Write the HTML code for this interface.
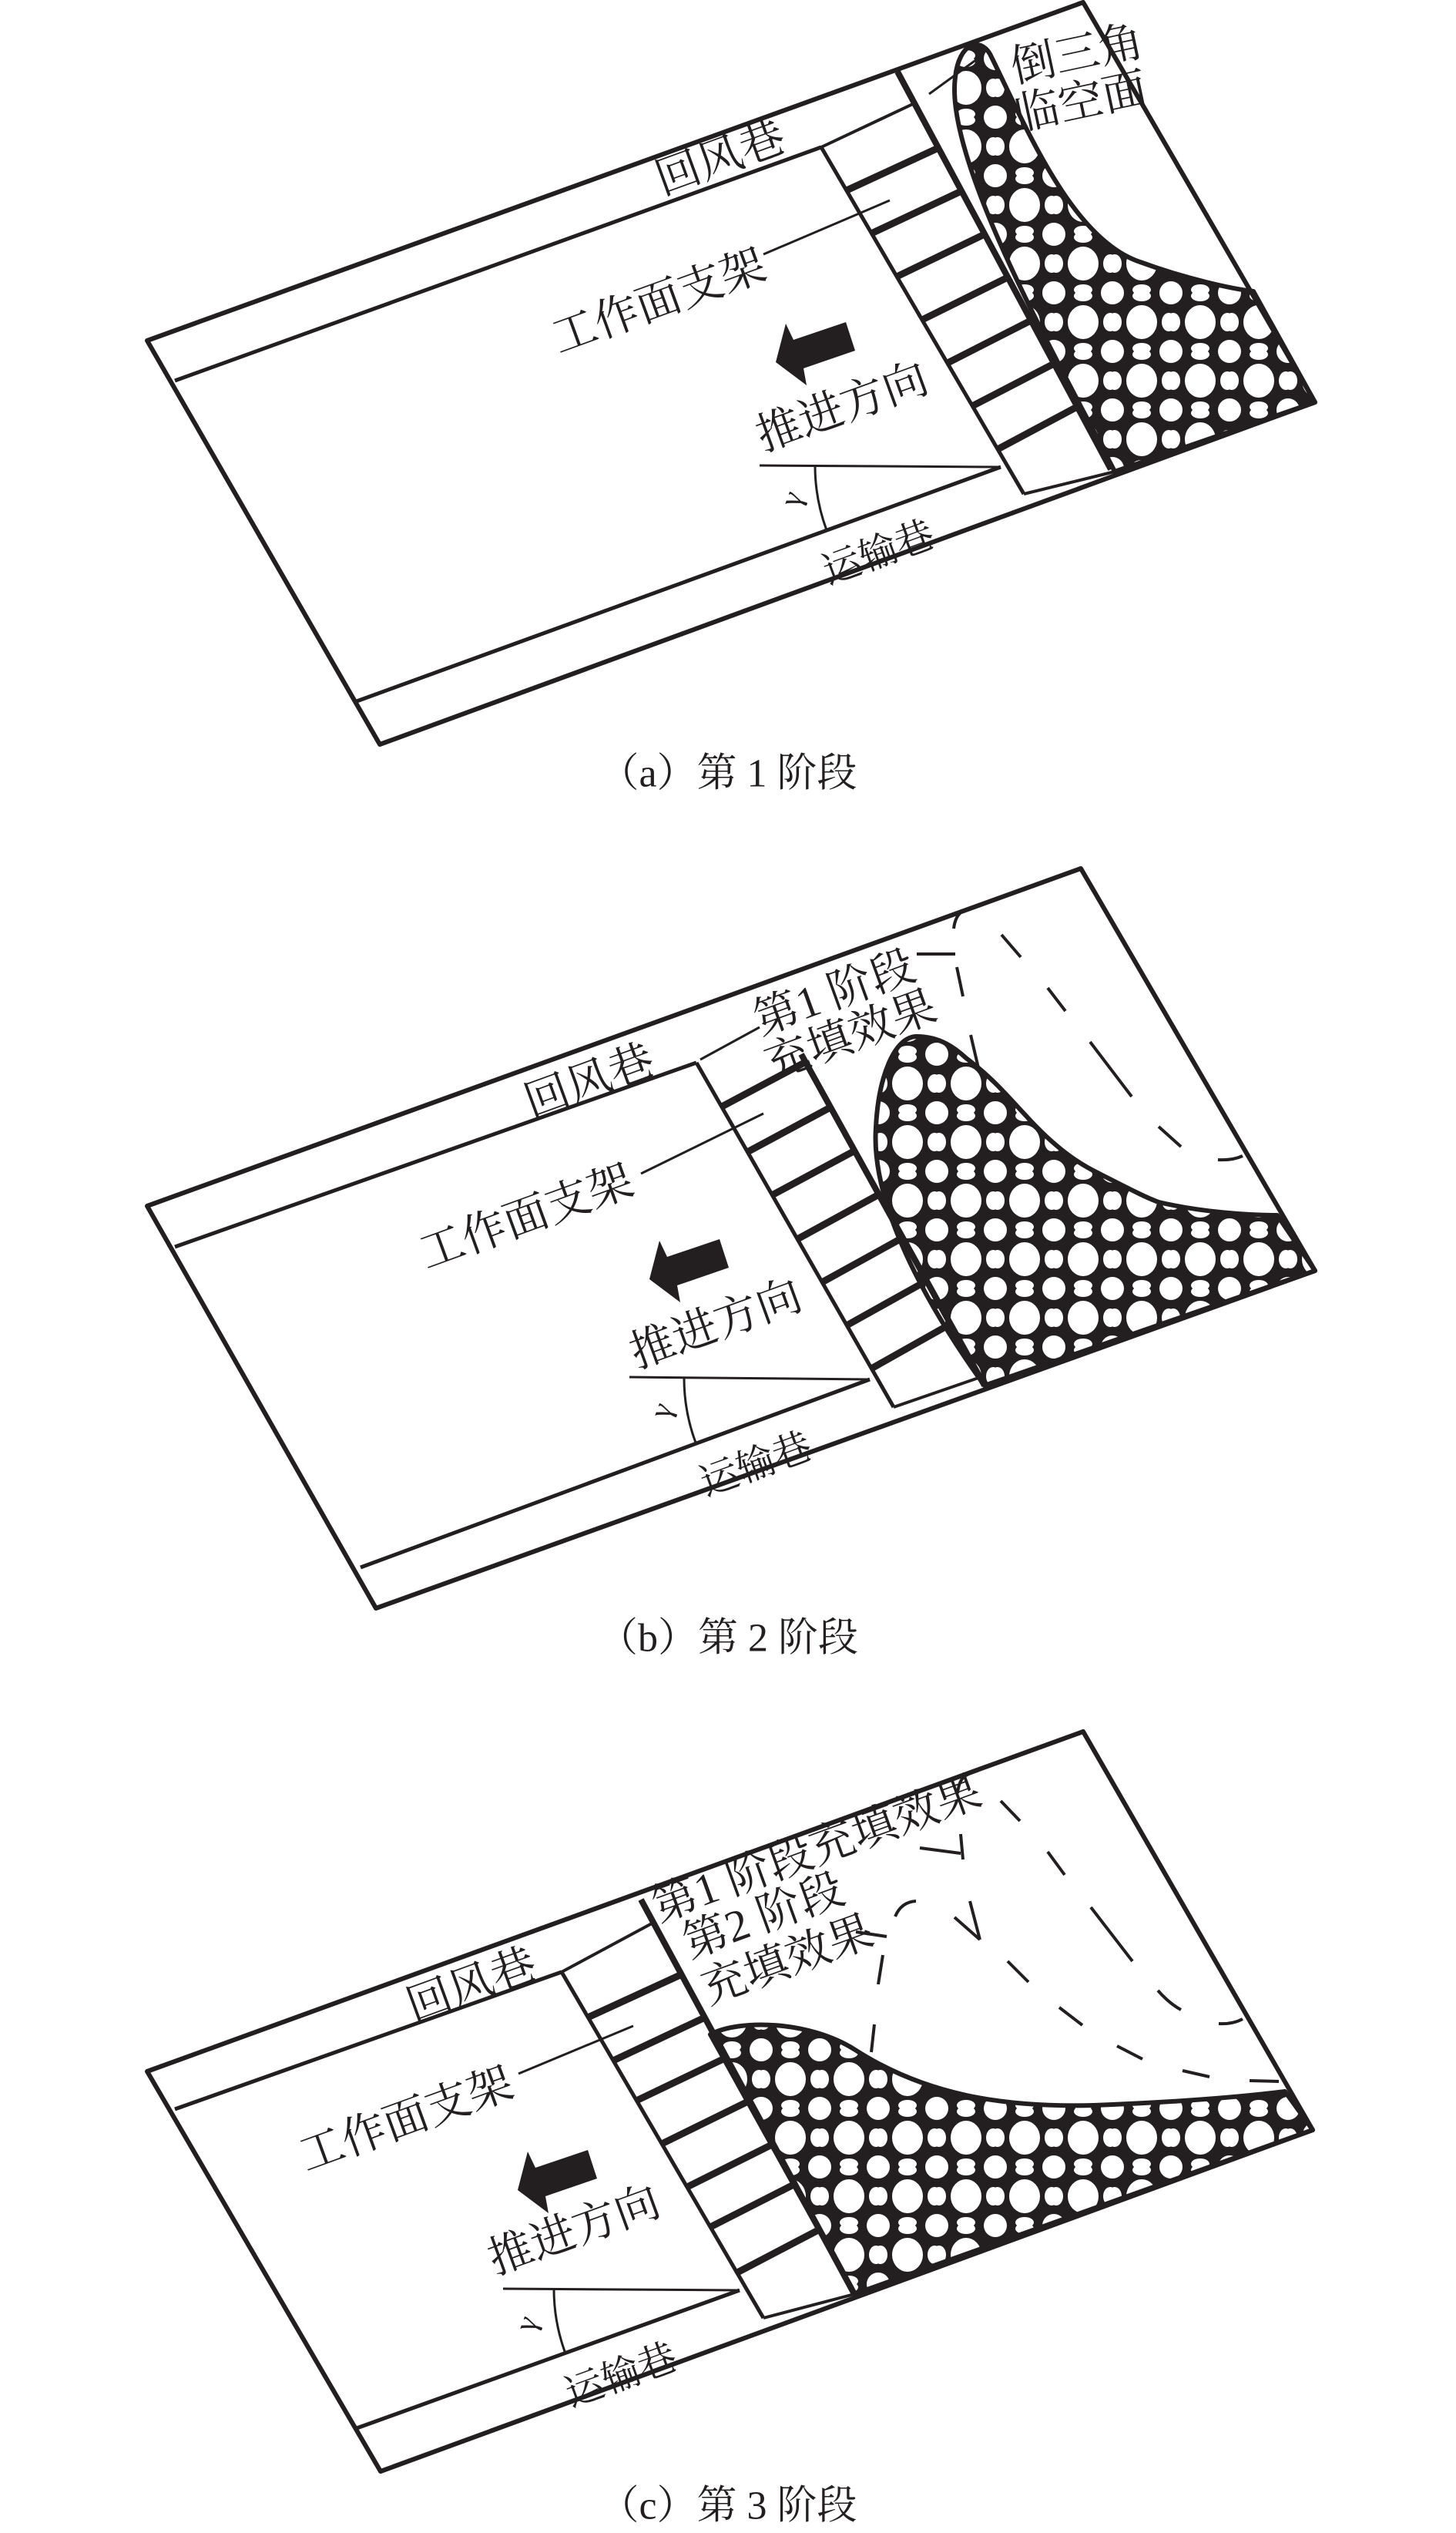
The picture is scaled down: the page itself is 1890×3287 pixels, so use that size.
<!DOCTYPE html>
<html><head><meta charset="utf-8"><style>
html,body{margin:0;padding:0;background:#fff}
svg{display:block}
text{font-family:"Liberation Serif","Noto Serif CJK SC",serif;fill:#231f20}
</style></head><body>
<svg width="1890" height="3287" viewBox="0 0 1890 3287" xmlns="http://www.w3.org/2000/svg">
<defs>
<pattern id="rb" patternUnits="userSpaceOnUse" width="76" height="76">
<rect width="76" height="76" fill="#231f20"/>
<ellipse cx="38" cy="38" rx="20" ry="22" fill="#fff"/>
<ellipse cx="0" cy="0" rx="15" ry="15" fill="#fff"/>
<ellipse cx="76" cy="0" rx="15" ry="15" fill="#fff"/>
<ellipse cx="0" cy="76" rx="15" ry="15" fill="#fff"/>
<ellipse cx="76" cy="76" rx="15" ry="15" fill="#fff"/>
<ellipse cx="38" cy="4" rx="12" ry="7" fill="#fff"/>
<ellipse cx="38" cy="72" rx="12" ry="7" fill="#fff"/>
<ellipse cx="3" cy="38" rx="9" ry="12" fill="#fff"/>
<ellipse cx="73" cy="38" rx="9" ry="12" fill="#fff"/>
</pattern>
</defs>
<g stroke="#231f20" fill="none" stroke-linejoin="round">

<!-- ========== Panel A ========== -->
<path d="M1447,612 C1380,480 1225,210 1240,100 C1245,55 1272,48 1285,70 C1330,160 1390,310 1480,340 C1540,362 1600,375 1627,378 L1707,522 Z" fill="url(#rb)" stroke-width="6"/>
<polygon points="191,442 1406,3 1707,522 493,966" stroke-width="6"/>
<line x1="227" y1="494" x2="1066" y2="191" stroke-width="5"/>
<line x1="1066" y1="191" x2="1329" y2="641" stroke-width="5"/>
<line x1="1165" y1="93" x2="1442" y2="609" stroke-width="8"/>
<line x1="1066" y1="191" x2="1187" y2="134" stroke-width="4"/>
<line x1="1329" y1="641" x2="1447" y2="612" stroke-width="4"/>
<line x1="463" y1="910" x2="1299" y2="606" stroke-width="5"/>
<g stroke-width="9">
<line x1="1099" y1="247" x2="1218" y2="192"/><line x1="1131" y1="303" x2="1248" y2="248"/>
<line x1="1164" y1="359" x2="1278" y2="304"/><line x1="1197" y1="415" x2="1308" y2="360"/>
<line x1="1230" y1="471" x2="1338" y2="416"/><line x1="1262" y1="527" x2="1368" y2="472"/>
<line x1="1295" y1="583" x2="1398" y2="528"/>
</g>
<line x1="986" y1="604" x2="1299" y2="606" stroke-width="3"/>
<path d="M1058,606 A241,241 0 0 0 1073,688" stroke-width="3"/>
<line x1="991" y1="330" x2="1155" y2="260" stroke-width="3"/>
<line x1="1206" y1="122" x2="1268" y2="77" stroke-width="3"/>
<polygon transform="translate(1060,455)" points="-53,15 -40,-35 -30,-14 38,-37 50,0 -17,23 -13,45" fill="#231f20" stroke="none"/>

<!-- ========== Panel B ========== -->
<path d="M1278,1798 C1200,1690 1130,1560 1137,1463 C1140,1400 1160,1345 1190,1345 C1220,1345 1240,1360 1254,1373 C1290,1400 1310,1425 1331,1447 C1370,1490 1400,1510 1427,1523 C1470,1545 1490,1555 1504,1560 C1560,1573 1620,1577 1658,1577 L1707,1649 Z" fill="url(#rb)" stroke-width="6"/>
<polygon points="191,1565 1403,1127 1707,1649 488,2087" stroke-width="6"/>
<line x1="227" y1="1618" x2="904" y2="1379" stroke-width="5"/>
<line x1="904" y1="1379" x2="1160" y2="1826" stroke-width="5"/>
<line x1="1040" y1="1368" x2="1278" y2="1798" stroke-width="8"/>
<line x1="1160" y1="1826" x2="1273" y2="1787" stroke-width="4"/>
<line x1="468" y1="2034" x2="1129" y2="1790" stroke-width="5"/>
<g stroke-width="9">
<line x1="937" y1="1436" x2="1046" y2="1378"/><line x1="970" y1="1495" x2="1078" y2="1437"/>
<line x1="1002" y1="1551" x2="1110" y2="1493"/><line x1="1035" y1="1608" x2="1141" y2="1550"/>
<line x1="1067" y1="1664" x2="1172" y2="1606"/><line x1="1099" y1="1720" x2="1203" y2="1662"/>
<line x1="1131" y1="1776" x2="1234" y2="1718"/>
</g>
<line x1="817" y1="1787" x2="1129" y2="1790" stroke-width="3"/>
<path d="M888,1789 A241,241 0 0 0 903,1872" stroke-width="3"/>
<line x1="909" y1="1375" x2="986" y2="1333" stroke-width="3"/>
<line x1="832" y1="1523" x2="991" y2="1445" stroke-width="3"/>
<g stroke-width="4">
<path d="M1238,1205 Q1240,1188 1250,1182"/>
<line x1="1190" y1="1238" x2="1240" y2="1238"/>
<line x1="1242" y1="1255" x2="1250" y2="1293"/>
<line x1="1260" y1="1343" x2="1271" y2="1390"/>
<line x1="1300" y1="1213" x2="1325" y2="1242"/>
<line x1="1360" y1="1282" x2="1383" y2="1312"/>
<line x1="1415" y1="1352" x2="1469" y2="1423"/>
<line x1="1504" y1="1462" x2="1533" y2="1488"/>
<path d="M1581,1505 Q1600,1506 1613,1500"/>
</g>
<polygon transform="translate(896,1645)" points="-53,15 -40,-35 -30,-14 38,-37 50,0 -17,23 -13,45" fill="#231f20" stroke="none"/>

<!-- ========== Panel C ========== -->
<path d="M1109,2977 L922,2640 C960,2620 1050,2622 1110,2660 C1200,2718 1300,2735 1420,2732 C1550,2727 1620,2720 1668,2714 L1704,2764 Z" fill="url(#rb)" stroke-width="6"/>
<polygon points="191,2688 1406,2247 1704,2764 494,3207" stroke-width="6"/>
<line x1="227" y1="2737" x2="729" y2="2559" stroke-width="5"/>
<line x1="729" y1="2559" x2="991" y2="3008" stroke-width="5"/>
<line x1="832" y1="2465" x2="1109" y2="2977" stroke-width="8"/>
<line x1="729" y1="2559" x2="848" y2="2495" stroke-width="4"/>
<line x1="991" y1="3008" x2="1109" y2="2977" stroke-width="4"/>
<line x1="463" y1="3151" x2="960" y2="2972" stroke-width="5"/>
<g stroke-width="9">
<line x1="763" y1="2618" x2="885" y2="2562"/><line x1="796" y1="2674" x2="915" y2="2618"/>
<line x1="826" y1="2726" x2="943" y2="2670"/><line x1="859" y1="2782" x2="973" y2="2726"/>
<line x1="892" y1="2838" x2="1004" y2="2782"/><line x1="922" y1="2890" x2="1032" y2="2834"/>
<line x1="957" y1="2949" x2="1064" y2="2893"/>
</g>
<line x1="653" y1="2970" x2="960" y2="2972" stroke-width="3"/>
<path d="M719,2971 A241,241 0 0 0 734,3054" stroke-width="3"/>
<line x1="673" y1="2691" x2="822" y2="2629" stroke-width="3"/>
<g stroke-width="4">
<path d="M1243,2327 Q1245,2306 1258,2302"/>
<line x1="1299" y1="2337" x2="1324" y2="2363"/>
<line x1="1360" y1="2403" x2="1382" y2="2433"/>
<line x1="1416" y1="2475" x2="1470" y2="2545"/>
<path d="M1503,2583 Q1518,2600 1533,2608"/>
<path d="M1582,2626 Q1600,2627 1613,2620"/>
<polyline points="1194,2398 1247,2405"/>
<line x1="1247" y1="2380" x2="1250" y2="2413"/>
<path d="M1162,2487 Q1170,2468 1189,2467"/>
<line x1="1239" y1="2488" x2="1272" y2="2517"/>
<line x1="1259" y1="2467" x2="1272" y2="2517"/>
<line x1="1308" y1="2545" x2="1335" y2="2572"/>
<line x1="1375" y1="2605" x2="1405" y2="2628"/>
<line x1="1450" y1="2655" x2="1483" y2="2672"/>
<line x1="1535" y1="2687" x2="1570" y2="2695"/>
<line x1="1622" y1="2700" x2="1660" y2="2701"/>
<line x1="1111" y1="2507" x2="1151" y2="2513"/>
<line x1="1146" y1="2537" x2="1140" y2="2575"/>
<line x1="1135" y1="2627" x2="1131" y2="2663"/>
</g>
<polygon transform="translate(725,2827)" points="-53,15 -40,-35 -30,-14 38,-37 50,0 -17,23 -13,45" fill="#231f20" stroke="none"/>
</g>

<g font-size="58" text-anchor="middle" dominant-baseline="central">
<text x="935" y="205" transform="rotate(-20 935 205)">回风巷</text>
<text x="855" y="391" transform="rotate(-20 855 391)">工作面支架</text>
<text x="1093" y="528" transform="rotate(-20 1093 528)">推进方向</text>
<text x="1140" y="717" transform="rotate(-20 1140 717)" font-size="50">运输巷</text>
<text x="1027" y="647" transform="rotate(-70 1027 647)" font-size="40">γ</text>
<text x="1398" y="70" transform="rotate(-12 1398 70)">倒三角</text>
<text x="1403" y="132" transform="rotate(-12 1403 132)">临空面</text>

<text x="765" y="1403" transform="rotate(-20 765 1403)">回风巷</text>
<text x="683" y="1579" transform="rotate(-20 683 1579)">工作面支架</text>
<text x="929" y="1718" transform="rotate(-20 929 1718)">推进方向</text>
<text x="981" y="1900" transform="rotate(-20 981 1900)" font-size="50">运输巷</text>
<text x="858" y="1830" transform="rotate(-70 858 1830)" font-size="40">γ</text>
<text x="1083" y="1288" transform="rotate(-20 1083 1288)">第1 阶段</text>
<text x="1104" y="1343" transform="rotate(-20 1104 1343)">充填效果</text>

<text x="612" y="2576" transform="rotate(-20 612 2576)">回风巷</text>
<text x="527" y="2750" transform="rotate(-20 527 2750)">工作面支架</text>
<text x="745" y="2894" transform="rotate(-20 745 2894)">推进方向</text>
<text x="806" y="3082" transform="rotate(-20 806 3082)" font-size="50">运输巷</text>
<text x="683" y="3015" transform="rotate(-70 683 3015)" font-size="40">γ</text>
<text x="1060" y="2399" transform="rotate(-20 1060 2399)">第1 阶段充填效果</text>
<text x="991" y="2486" transform="rotate(-20 991 2486)">第2 阶段</text>
<text x="1022" y="2543" transform="rotate(-20 1022 2543)">充填效果</text>
</g>
<g font-size="52" text-anchor="middle" dominant-baseline="central">
<text x="945" y="1004">（a）第 1 阶段</text>
<text x="945" y="2126">（b）第 2 阶段</text>
<text x="945" y="3252">（c）第 3 阶段</text>
</g>
</svg>
</body></html>
